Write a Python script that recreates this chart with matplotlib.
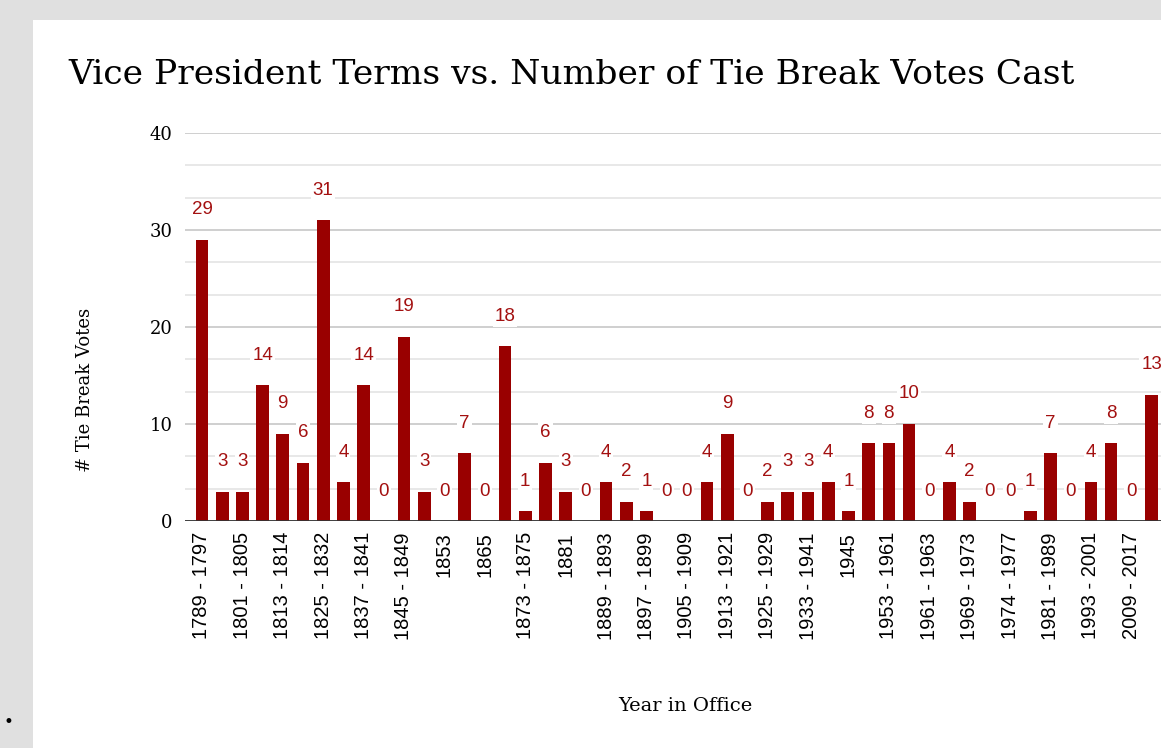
import numpy as np
import matplotlib
matplotlib.use('Agg')
import matplotlib.pyplot as plt
from matplotlib.patches import Rectangle

# tie break votes per vice president term (left to right, chart is cut at the right edge)
votes = [29, 3, 3, 14, 9, 6, 31, 4, 14, 0, 19, 3, 0, 7, 0, 18, 1, 6, 3, 0,
         4, 2, 1, 0, 0, 4, 9, 0, 2, 3, 3, 4, 1, 8, 8, 10, 0, 4, 2, 0,
         0, 1, 7, 0, 4, 8, 0, 13]

# only every other term label is shown on the axis
shown_terms = ['1789 - 1797', '1801 - 1805', '1813 - 1814', '1825 - 1832',
               '1837 - 1841', '1845 - 1849', '1853', '1865', '1873 - 1875',
               '1881', '1889 - 1893', '1897 - 1899', '1905 - 1909',
               '1913 - 1921', '1925 - 1929', '1933 - 1941', '1945',
               '1953 - 1961', '1961 - 1963', '1969 - 1973', '1974 - 1977',
               '1981 - 1989', '1993 - 2001', '2009 - 2017']

yticks = [0, 10, 20, 30, 40]

W, H = 1161, 748
bar_color = '#990000'
label_color = '#a31010'

fig = plt.figure(figsize=(W / 100, H / 100), dpi=100)
fig.patch.set_facecolor('#e0e0e0')
fig.patches.append(Rectangle((33 / W, 0), 1 - 33 / W, (H - 20) / H,
                             transform=fig.transFigure, facecolor='white',
                             edgecolor='none', zorder=-5))

ax = fig.add_axes([185 / W, 1 - 521 / H, 1 - 185 / W, (521 - 133) / H])
ax.set_facecolor('none')

x = np.arange(len(votes))
ax.bar(x, votes, width=0.63, color=bar_color, zorder=3)

for xi, v in zip(x, votes):
    ax.annotate(str(v), (xi, v), xytext=(0, 30), textcoords='offset pixels',
                ha='center', va='center', color=label_color, fontsize=13.5,
                family='Liberation Sans', zorder=4,
                bbox=dict(boxstyle='square,pad=0.1', fc='white', ec='none'),
                annotation_clip=False)

ax.set_xlim(-0.84, 47.47)
ax.set_ylim(0, 40)

# major and minor gridlines
for y in np.arange(0, 40.01, 10 / 3):
    if abs(y - round(y / 10) * 10) < 1e-6:
        ax.axhline(y, color='#cccccc', lw=1.3, zorder=1)
    else:
        ax.axhline(y, color='#e6e6e6', lw=1.3, zorder=1)
ax.axhline(0, color='#333333', lw=2, zorder=5)

ax.set_yticks(yticks)
ax.set_yticklabels([str(t) for t in yticks], family='DejaVu Serif', fontsize=13)
ax.set_xticks(x[::2])
ax.set_xticklabels(shown_terms, rotation=90, family='Liberation Sans',
                   fontsize=14.5, va='top', ha='center')
ax.tick_params(axis='both', length=0)
ax.tick_params(axis='y', pad=9)
ax.tick_params(axis='x', pad=8)
for s in ax.spines.values():
    s.set_visible(False)

fig.text(68 / W, 1 - 75 / H, 'Vice President Terms vs. Number of Tie Break Votes Cast',
         family='DejaVu Serif', fontsize=24.8, ha='left', va='center')
fig.text(685 / W, 1 - 706 / H, 'Year in Office', family='DejaVu Serif',
         fontsize=14, ha='center', va='center')
fig.text(85 / W, 1 - 390 / H, '# Tie Break Votes', family='DejaVu Serif',
         fontsize=13, ha='center', va='center', rotation=90)
fig.text(8 / W, 1 - 722 / H, '•', fontsize=12, ha='center', va='center')

fig.savefig('out.png', dpi=100, facecolor=fig.get_facecolor())
